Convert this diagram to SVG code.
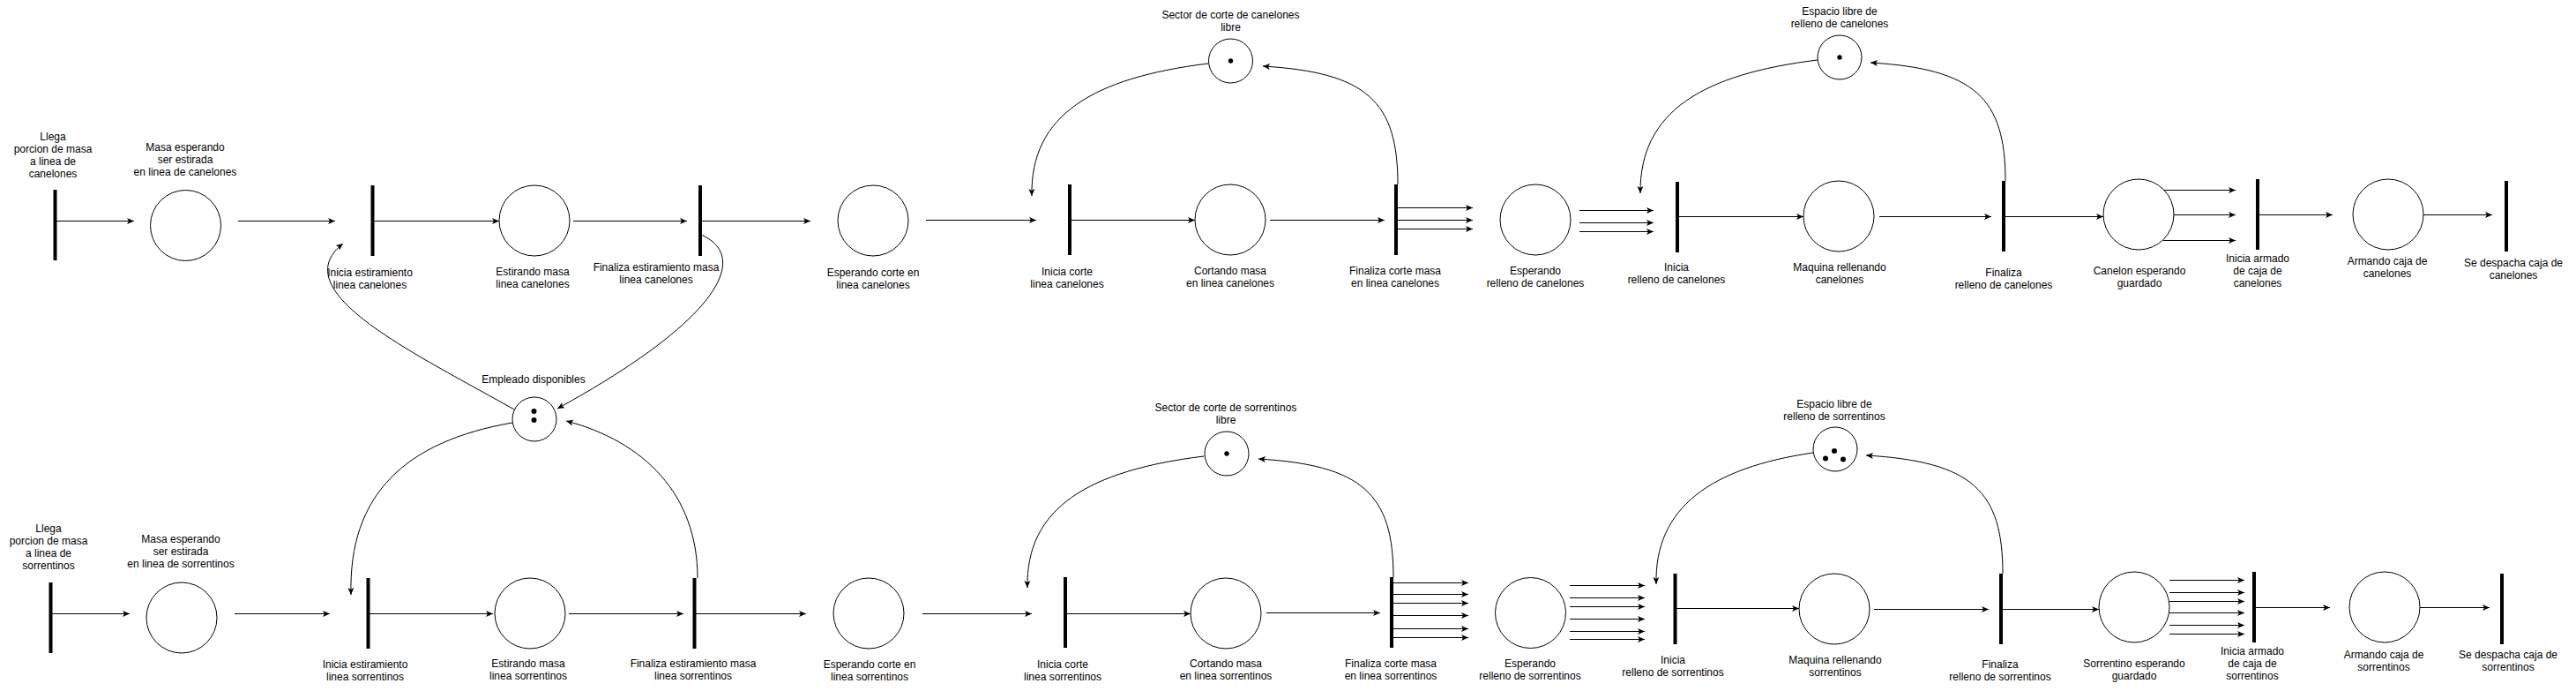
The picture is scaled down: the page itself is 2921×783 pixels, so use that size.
<svg xmlns="http://www.w3.org/2000/svg" width="2921" height="783" viewBox="0 0 2921 783">
<style>
.t{fill:#000}
.p{fill:#fff;stroke:#000;stroke-width:1}
.tk{fill:#000}
.e{fill:none;stroke:#000;stroke-width:1;marker-end:url(#a)}
text{font-family:"Liberation Sans",Arial,Helvetica,sans-serif;font-size:12px;text-anchor:middle;fill:#000}
</style>
<defs>
<marker id="a" viewBox="0 0 8 8" markerWidth="8" markerHeight="8" refX="8" refY="4" orient="auto" markerUnits="userSpaceOnUse">
<path d="M0,0.5 L8,4 L0,7.5 L2,4 Z" fill="#000"/>
</marker>
</defs>
<rect width="2921" height="783" fill="#fff"/>

<g id="connectors">
<!-- top row straight -->
<path class="e" d="M62.5,250.5 H152"/>
<path class="e" d="M270,250.5 H380"/>
<path class="e" d="M424,250.5 H566"/>
<path class="e" d="M650,250.5 H779"/>
<path class="e" d="M796,250.5 H919"/>
<path class="e" d="M1050,249.5 H1175"/>
<path class="e" d="M1215,249.5 H1355"/>
<path class="e" d="M1440,249.5 H1570"/>
<path class="e" d="M1585,235.5 H1670"/>
<path class="e" d="M1585,249.5 H1670"/>
<path class="e" d="M1585,259.5 H1670"/>
<path class="e" d="M1791,238.5 H1875"/>
<path class="e" d="M1791,252.5 H1875"/>
<path class="e" d="M1791,262.5 H1875"/>
<path class="e" d="M1904,245.5 H2045"/>
<path class="e" d="M2131,245.5 H2258"/>
<path class="e" d="M2274,245.5 H2385"/>
<path class="e" d="M2453,215.5 H2535"/>
<path class="e" d="M2465,243.5 H2535"/>
<path class="e" d="M2453,272.5 H2535"/>
<path class="e" d="M2562,243.5 H2645"/>
<path class="e" d="M2748,243.5 H2826"/>
<!-- bottom row straight -->
<path class="e" d="M57.5,695.5 H147"/>
<path class="e" d="M266,695.5 H374"/>
<path class="e" d="M419,695.5 H559"/>
<path class="e" d="M645,695.5 H775"/>
<path class="e" d="M789,695.5 H914"/>
<path class="e" d="M1046,695.5 H1170"/>
<path class="e" d="M1210,695.5 H1350"/>
<path class="e" d="M1436,694.5 H1565"/>
<path class="e" d="M1580,660.5 H1665"/>
<path class="e" d="M1580,673.5 H1665"/>
<path class="e" d="M1580,683.5 H1665"/>
<path class="e" d="M1580,697.5 H1665"/>
<path class="e" d="M1580,712.5 H1665"/>
<path class="e" d="M1580,722.5 H1665"/>
<path class="e" d="M1780,663.5 H1865"/>
<path class="e" d="M1780,677.5 H1865"/>
<path class="e" d="M1780,687.5 H1865"/>
<path class="e" d="M1780,701.5 H1865"/>
<path class="e" d="M1780,715.5 H1865"/>
<path class="e" d="M1780,724.5 H1865"/>
<path class="e" d="M1901,689.5 H2040"/>
<path class="e" d="M2125,690.5 H2255"/>
<path class="e" d="M2271,690.5 H2380"/>
<path class="e" d="M2460,657.5 H2545"/>
<path class="e" d="M2460,671.5 H2545"/>
<path class="e" d="M2460,681.5 H2545"/>
<path class="e" d="M2460,694.5 H2545"/>
<path class="e" d="M2460,708.5 H2545"/>
<path class="e" d="M2460,718.5 H2545"/>
<path class="e" d="M2558,688.5 H2642"/>
<path class="e" d="M2744,688.5 H2823"/>
<!-- curved resource arcs -->
<path class="e" d="M583,464 C470,400 320,330 389,276"/>
<path class="e" d="M795,266 C850,290 820,360 632,463"/>
<path class="e" d="M581,479 C460,500 395,560 398,674"/>
<path class="e" d="M791,655 C791,560 730,500 642,477"/>
<path class="e" d="M1370,72 C1240,88 1168,130 1170,222"/>
<path class="e" d="M1585,209 C1585,115 1550,82 1432,75"/>
<path class="e" d="M2061,68 C1931,84 1859,126 1860,219"/>
<path class="e" d="M2274,205 C2274,111 2239,78 2121,71"/>
<path class="e" d="M1365,517 C1235,533 1163,575 1165,666"/>
<path class="e" d="M1580,654 C1580,560 1545,527 1427,520"/>
<path class="e" d="M2056,513 C1940,530 1876,575 1878,662"/>
<path class="e" d="M2271,650 C2271,556 2236,523 2116,516"/>
</g>

<!-- TOP ROW -->
<g id="t1"><rect class="t" x="60.5" y="215" width="4" height="80"/><text x="60" y="159">Llega</text><text x="60" y="173">porcion de masa</text><text x="60" y="187">a linea de</text><text x="60" y="201">canelones</text></g>
<g id="p1"><circle class="p" cx="210.5" cy="255.5" r="40"/><text x="210" y="171">Masa esperando</text><text x="210" y="185">ser estirada</text><text x="210" y="199">en linea de canelones</text></g>
<g id="t2"><rect class="t" x="420.5" y="210" width="4" height="80"/><text x="419.5" y="313">Inicia estiramiento</text><text x="419.5" y="327">linea canelones</text></g>
<g id="p2"><circle class="p" cx="606" cy="250" r="40"/><text x="604" y="312">Estirando masa</text><text x="604" y="326">linea canelones</text></g>
<g id="t3"><rect class="t" x="792" y="210" width="4" height="80"/><text x="744" y="307">Finaliza estiramiento masa</text><text x="744" y="321">linea canelones</text></g>
<g id="p3"><circle class="p" cx="990" cy="250" r="40"/><text x="990" y="313">Esperando corte en</text><text x="990" y="327">linea canelones</text></g>
<g id="t4"><rect class="t" x="1211" y="209" width="4" height="80"/><text x="1210" y="312">Inicia corte</text><text x="1210" y="326">linea canelones</text></g>
<g id="p4"><circle class="p" cx="1395" cy="249" r="40"/><text x="1395" y="311">Cortando masa</text><text x="1395" y="325">en linea canelones</text></g>
<g id="t5"><rect class="t" x="1581" y="209" width="4" height="80"/><text x="1582" y="311">Finaliza corte masa</text><text x="1582" y="325">en linea canelones</text></g>
<g id="p5"><circle class="p" cx="1741" cy="249" r="40"/><text x="1741" y="311">Esperando</text><text x="1741" y="325">relleno de canelones</text></g>
<g id="t6"><rect class="t" x="1900" y="206" width="4" height="80"/><text x="1901" y="307">Inicia</text><text x="1901" y="321">relleno de canelones</text></g>
<g id="p6"><circle class="p" cx="2085" cy="245" r="40"/><text x="2086" y="307">Maquina rellenando</text><text x="2086" y="321">canelones</text></g>
<g id="t7"><rect class="t" x="2270" y="205" width="4" height="80"/><text x="2272" y="313">Finaliza</text><text x="2272" y="327">relleno de canelones</text></g>
<g id="p7"><circle class="p" cx="2425" cy="243" r="40"/><text x="2426" y="311">Canelon esperando</text><text x="2426" y="325">guardado</text></g>
<g id="t8"><rect class="t" x="2558" y="203" width="4" height="80"/><text x="2560" y="297">Inicia armado</text><text x="2560" y="311">de caja de</text><text x="2560" y="325">canelones</text></g>
<g id="p8"><circle class="p" cx="2708" cy="243" r="40"/><text x="2707" y="300">Armando caja de</text><text x="2707" y="314">canelones</text></g>
<g id="t9"><rect class="t" x="2840" y="205" width="4" height="80"/><text x="2850" y="302">Se despacha caja de</text><text x="2850" y="316">canelones</text></g>
<g id="r1"><circle class="p" cx="1395.5" cy="69" r="25"/><circle class="tk" cx="1395.5" cy="69" r="2.7"/><text x="1395.5" y="21">Sector de corte de canelones</text><text x="1395.5" y="35">libre</text></g>
<g id="r2"><circle class="p" cx="2086" cy="65" r="25"/><circle class="tk" cx="2086" cy="65" r="2.7"/><text x="2086" y="17">Espacio libre de</text><text x="2086" y="31">relleno de canelones</text></g>

<!-- SHARED -->
<g id="empleado"><circle class="p" cx="606" cy="475" r="25"/><circle class="tk" cx="605.5" cy="466" r="3"/><circle class="tk" cx="605.5" cy="476" r="3"/><text x="605" y="434">Empleado disponibles</text></g>

<!-- BOTTOM ROW -->
<g id="t1b"><rect class="t" x="55.5" y="660" width="4" height="80"/><text x="55" y="603">Llega</text><text x="55" y="617">porcion de masa</text><text x="55" y="631">a linea de</text><text x="55" y="645">sorrentinos</text></g>
<g id="p1b"><circle class="p" cx="206" cy="700" r="40"/><text x="205" y="615">Masa esperando</text><text x="205" y="629">ser estirada</text><text x="205" y="643">en linea de sorrentinos</text></g>
<g id="t2b"><rect class="t" x="415.5" y="655" width="4" height="80"/><text x="414" y="757">Inicia estiramiento</text><text x="414" y="771">linea sorrentinos</text></g>
<g id="p2b"><circle class="p" cx="601" cy="695" r="40"/><text x="599" y="756">Estirando masa</text><text x="599" y="770">linea sorrentinos</text></g>
<g id="t3b"><rect class="t" x="785.5" y="655" width="4" height="80"/><text x="786" y="756">Finaliza estiramiento masa</text><text x="786" y="770">linea sorrentinos</text></g>
<g id="p3b"><circle class="p" cx="985" cy="695" r="40"/><text x="986" y="757">Esperando corte en</text><text x="986" y="771">linea sorrentinos</text></g>
<g id="t4b"><rect class="t" x="1206" y="654" width="4" height="80"/><text x="1205" y="757">Inicia corte</text><text x="1205" y="771">linea sorrentinos</text></g>
<g id="p4b"><circle class="p" cx="1390" cy="695" r="40"/><text x="1390" y="756">Cortando masa</text><text x="1390" y="770">en linea sorrentinos</text></g>
<g id="t5b"><rect class="t" x="1576" y="654" width="4" height="80"/><text x="1577" y="756">Finaliza corte masa</text><text x="1577" y="770">en linea sorrentinos</text></g>
<g id="p5b"><circle class="p" cx="1735.5" cy="694.5" r="40"/><text x="1735" y="756">Esperando</text><text x="1735" y="770">relleno de sorrentinos</text></g>
<g id="t6b"><rect class="t" x="1897.5" y="650" width="4" height="80"/><text x="1897" y="752">Inicia</text><text x="1897" y="766">relleno de sorrentinos</text></g>
<g id="p6b"><circle class="p" cx="2080" cy="690" r="40"/><text x="2081" y="752">Maquina rellenando</text><text x="2081" y="766">sorrentinos</text></g>
<g id="t7b"><rect class="t" x="2267" y="650" width="4" height="80"/><text x="2268" y="757">Finaliza</text><text x="2268" y="771">relleno de sorrentinos</text></g>
<g id="p7b"><circle class="p" cx="2420" cy="688" r="40"/><text x="2420" y="756">Sorrentino esperando</text><text x="2420" y="770">guardado</text></g>
<g id="t8b"><rect class="t" x="2554" y="648" width="4" height="80"/><text x="2554" y="742">Inicia armado</text><text x="2554" y="756">de caja de</text><text x="2554" y="770">sorrentinos</text></g>
<g id="p8b"><circle class="p" cx="2704" cy="688" r="40"/><text x="2703" y="746">Armando caja de</text><text x="2703" y="760">sorrentinos</text></g>
<g id="t9b"><rect class="t" x="2835" y="650" width="4" height="80"/><text x="2844" y="746">Se despacha caja de</text><text x="2844" y="760">sorrentinos</text></g>
<g id="r3"><circle class="p" cx="1391" cy="514" r="25"/><circle class="tk" cx="1391" cy="514" r="2.7"/><text x="1390" y="466">Sector de corte de sorrentinos</text><text x="1390" y="480">libre</text></g>
<g id="r4"><circle class="p" cx="2081" cy="509" r="25"/><circle class="tk" cx="2080" cy="511" r="3"/><circle class="tk" cx="2070" cy="519.5" r="3"/><circle class="tk" cx="2090" cy="520.5" r="3"/><text x="2080" y="462">Espacio libre de</text><text x="2080" y="476">relleno de sorrentinos</text></g>
</svg>
